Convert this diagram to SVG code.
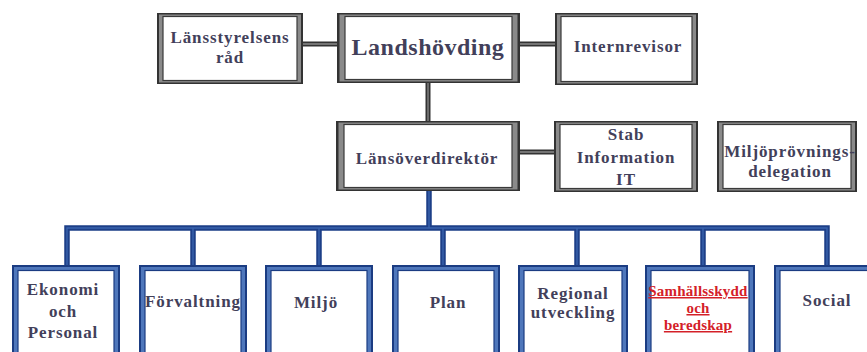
<svg xmlns="http://www.w3.org/2000/svg" width="867" height="352" viewBox="0 0 867 352">
  <style>
    .g-out { fill: #333333; }
    .g-mid { fill: #8a8a8a; }
    .g-in  { fill: #ffffff; stroke: #3a3a3a; stroke-width: 1.2; }
    .b-out { fill: #1b3c82; }
    .b-mid { fill: #4f77bb; }
    .b-in  { fill: #ffffff; stroke: #1b3c82; stroke-width: 1.2; }
    .gl    { fill: none; stroke: #333333; stroke-width: 5; }
    .gl2   { fill: none; stroke: #8a8a8a; stroke-width: 1.3; }
    .bl    { fill: none; stroke: #1d3f88; stroke-width: 5.5; stroke-linejoin: miter; }
    .bl2   { fill: none; stroke: #3a64ad; stroke-width: 1.4; }
    text   { font-family: "Liberation Serif", "Times New Roman", serif; font-weight: bold; fill: #42405a; text-anchor: middle; }
    .t16   { font-size: 17px; letter-spacing: 0.9px; }
    .big   { font-size: 24px; letter-spacing: 0.5px; }
    .red   { font-size: 15px; fill: #d42028; letter-spacing: 0.2px; text-decoration: underline; }
  </style>

  <!-- connectors -->
  <g id="connectors">
    <path class="gl" d="M303 44 H337 M520 44 H555 M428 83 V121 M520 152 H554"/>
    <path class="gl2" d="M303 44 H337 M520 44 H555 M428 83 V121 M520 152 H554"/>
    <path class="bl" d="M429 191 V228 M67 265 V228 H827 V265 M193 228 V265 M319 228 V265 M443 228 V265 M577 228 V265 M703 228 V265"/>
    <path class="bl2" d="M429 191 V228 M67 265 V228 H827 V265 M193 228 V265 M319 228 V265 M443 228 V265 M577 228 V265 M703 228 V265"/>
  </g>

  <!-- management level -->
  <g id="lansstyrelsens-rad">
    <rect class="g-out" x="157" y="13" width="146" height="71"/>
    <rect class="g-mid" x="159" y="14.5" width="142" height="68"/>
    <rect class="g-in" x="163" y="16.5" width="134" height="64"/>
    <text class="t16" x="230" y="43">Länsstyrelsens</text>
    <text class="t16" x="230" y="63">råd</text>
  </g>

  <g id="landshovding">
    <rect class="g-out" x="337" y="13" width="183" height="70"/>
    <rect class="g-mid" x="339.5" y="14.5" width="178" height="67"/>
    <rect class="g-in" x="345" y="16.5" width="167" height="63"/>
    <text class="big" x="428" y="55">Landshövding</text>
  </g>

  <g id="internrevisor">
    <rect class="g-out" x="555" y="13" width="143" height="72"/>
    <rect class="g-mid" x="557" y="14.5" width="139" height="69"/>
    <rect class="g-in" x="561" y="16.5" width="131" height="65"/>
    <text class="t16" x="628" y="52">Internrevisor</text>
  </g>

  <g id="lansoverdirektor">
    <rect class="g-out" x="336" y="121" width="184" height="70"/>
    <rect class="g-mid" x="338.5" y="122.5" width="179" height="67"/>
    <rect class="g-in" x="344" y="124.5" width="168" height="63"/>
    <text class="t16" x="427" y="164">Länsöverdirektör</text>
  </g>

  <g id="stab">
    <rect class="g-out" x="554" y="121" width="144" height="71"/>
    <rect class="g-mid" x="556" y="122.5" width="140" height="68"/>
    <rect class="g-in" x="560" y="124.5" width="132" height="64"/>
    <text class="t16" x="626" y="140">Stab</text>
    <text class="t16" x="626" y="163">Information</text>
    <text class="t16" x="626" y="185">IT</text>
  </g>

  <g id="miljoprovningsdelegation">
    <rect class="g-out" x="717" y="121" width="140" height="71"/>
    <rect class="g-mid" x="719" y="122.5" width="136" height="68"/>
    <rect class="g-in" x="723" y="124.5" width="128" height="64"/>
    <text class="t16" x="790" y="157">Miljöprövnings-</text>
    <text class="t16" x="790" y="177">delegation</text>
  </g>

  <!-- departments -->
  <g id="ekonomi-och-personal">
    <rect class="b-out" x="12" y="265" width="108" height="100"/>
    <rect class="b-mid" x="14" y="267" width="104" height="96"/>
    <rect class="b-in" x="18" y="270.5" width="96" height="90"/>
    <text class="t16" x="63" y="295">Ekonomi</text>
    <text class="t16" x="63" y="317">och</text>
    <text class="t16" x="63" y="338">Personal</text>
  </g>

  <g id="forvaltning">
    <rect class="b-out" x="139" y="265" width="108" height="100"/>
    <rect class="b-mid" x="141" y="267" width="104" height="96"/>
    <rect class="b-in" x="145" y="270.5" width="96" height="90"/>
    <text class="t16" x="193" y="307">Förvaltning</text>
  </g>

  <g id="miljo">
    <rect class="b-out" x="265" y="265" width="108" height="100"/>
    <rect class="b-mid" x="267" y="267" width="104" height="96"/>
    <rect class="b-in" x="271" y="270.5" width="96" height="90"/>
    <text class="t16" x="316" y="308">Miljö</text>
  </g>

  <g id="plan">
    <rect class="b-out" x="392" y="265" width="108" height="100"/>
    <rect class="b-mid" x="394" y="267" width="104" height="96"/>
    <rect class="b-in" x="398" y="270.5" width="96" height="90"/>
    <text class="t16" x="448" y="308">Plan</text>
  </g>

  <g id="regional-utveckling">
    <rect class="b-out" x="518" y="265" width="110" height="100"/>
    <rect class="b-mid" x="520" y="267" width="106" height="96"/>
    <rect class="b-in" x="524" y="270.5" width="98" height="90"/>
    <text class="t16" x="573" y="299">Regional</text>
    <text class="t16" x="573" y="318">utveckling</text>
  </g>

  <g id="samhallsskydd-och-beredskap">
    <rect class="b-out" x="645" y="265" width="110" height="100"/>
    <rect class="b-mid" x="647" y="267" width="106" height="96"/>
    <rect class="b-in" x="651" y="270.5" width="98" height="90"/>
    <text class="red" x="698" y="296">Samhällsskydd</text>
    <text class="red" x="698" y="313">och</text>
    <text class="red" x="698" y="330">beredskap</text>
  </g>

  <g id="social">
    <rect class="b-out" x="774" y="265" width="108" height="100"/>
    <rect class="b-mid" x="776" y="267" width="104" height="96"/>
    <rect class="b-in" x="780" y="270.5" width="96" height="90"/>
    <text class="t16" x="827" y="306">Social</text>
  </g>
</svg>
